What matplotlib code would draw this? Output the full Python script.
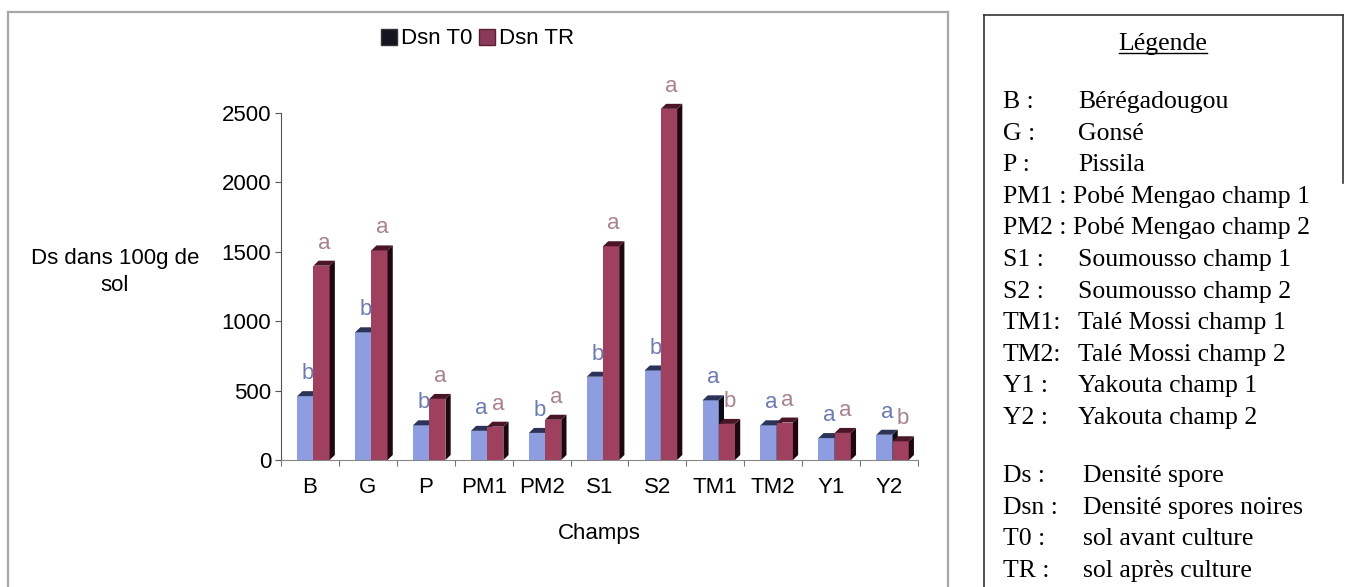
import matplotlib
matplotlib.use("Agg")
import matplotlib.pyplot as plt
from matplotlib.patches import Polygon, Rectangle
from matplotlib.lines import Line2D
import numpy as np

# --- data -------------------------------------------------------------
champs = ["B", "G", "P", "PM1", "PM2", "S1", "S2", "TM1", "TM2", "Y1", "Y2"]
dsn_t0 = [460, 920, 250, 210, 195, 600, 645, 430, 250, 158, 182]
dsn_tr = [1400, 1510, 440, 240, 290, 1540, 2530, 260, 270, 195, 135]
lettres_t0 = ["b", "b", "b", "a", "b", "b", "b", "a", "a", "a", "a"]
lettres_tr = ["a", "a", "a", "a", "a", "a", "a", "b", "a", "a", "b"]
yticks = [0, 500, 1000, 1500, 2000, 2500]

legende_sites = [
    ("B :", "Bérégadougou"),
    ("G :", "Gonsé"),
    ("P :", "Pissila"),
    ("PM1 : Pobé Mengao champ 1", ""),
    ("PM2 : Pobé Mengao champ 2", ""),
    ("S1 :", "Soumousso champ 1"),
    ("S2 :", "Soumousso champ 2"),
    ("TM1:", "Talé Mossi champ 1"),
    ("TM2:", "Talé Mossi champ 2"),
    ("Y1 :", "Yakouta champ 1"),
    ("Y2 :", "Yakouta champ 2"),
]
legende_sigles = [
    ("Ds :", "Densité spore"),
    ("Dsn :", "Densité spores noires"),
    ("T0 :", "sol avant culture"),
    ("TR :", "sol après culture"),
]

# --- figure -----------------------------------------------------------
W, H = 1348, 587
fig = plt.figure(figsize=(W / 100, H / 100), dpi=100)
fig.patch.set_facecolor("white")


def fx(x):
    return x / W


def fy(y):
    return 1 - y / H


SANS = "Liberation Sans"
SERIF = "Liberation Serif"

ax = fig.add_axes([fx(281), fy(460), fx(918) - fx(281), fy(113) - fy(460)])
ax.set_xlim(-0.5, len(champs) - 0.5)
ax.set_ylim(0, 2500)

# 3D-like clustered columns
w = 0.28
dx = 0.09
px_per_unit = (460 - 113) / 2500
dy = 5 / px_per_unit

c_t0 = dict(front="#8e9de0", top="#2c3358", side="#0c0c14", txt="#6c7ab0")
c_tr = dict(front="#a0405f", top="#4a1627", side="#1e070f", txt="#a8828e")


def colonne(x0, v, col):
    x1 = x0 + w
    ax.add_patch(Rectangle((x0, 0), w, v, facecolor=col["front"],
                           edgecolor="none", clip_on=False, zorder=3))
    ax.add_patch(Polygon([(x1, 0), (x1 + dx, dy), (x1 + dx, v + dy), (x1, v)],
                         closed=True, facecolor=col["side"], edgecolor="none",
                         clip_on=False, zorder=3))
    ax.add_patch(Polygon([(x0, v), (x0 + dx, v + dy), (x1 + dx, v + dy), (x1, v)],
                         closed=True, facecolor=col["top"], edgecolor="none",
                         clip_on=False, zorder=3))


x = np.arange(len(champs))
for i in x:
    colonne(i - 0.22, dsn_t0[i], c_t0)
    colonne(i + 0.06, dsn_tr[i], c_tr)
    ax.annotate(lettres_t0[i], (i - 0.22 + w / 2 + dx / 2, dsn_t0[i] + dy),
                xytext=(0, 5), textcoords="offset points", ha="center",
                va="bottom", fontsize=16, family=SANS, color=c_t0["txt"],
                annotation_clip=False, zorder=4)
    ax.annotate(lettres_tr[i], (i + 0.06 + w / 2 + dx / 2, dsn_tr[i] + dy),
                xytext=(0, 5), textcoords="offset points", ha="center",
                va="bottom", fontsize=16, family=SANS, color=c_tr["txt"],
                annotation_clip=False, zorder=4)

# axes styling
for s in ("top", "right"):
    ax.spines[s].set_visible(False)
ax.spines["left"].set_color("#555555")
ax.spines["bottom"].set_color("#888888")
ax.set_yticks(yticks)
ax.set_yticklabels([str(t) for t in yticks], family=SANS, fontsize=16)
ax.tick_params(axis="y", direction="out", length=4, width=0.8, pad=3,
               color="#555555")
ax.set_xticks(x)
ax.set_xticklabels(champs, family=SANS, fontsize=16)
ax.set_xticks(np.arange(-0.5, len(champs)), minor=True)
ax.tick_params(axis="x", which="major", length=0, pad=12)
ax.tick_params(axis="x", which="minor", length=4, width=0.8, color="#777777")
ax.set_facecolor("white")

ax.set_xlabel("Champs", family=SANS, fontsize=16, labelpad=18)
fig.text(fx(115), fy(272), "Ds dans 100g de\nsol", ha="center", va="center",
         family=SANS, fontsize=16, linespacing=1.4)

# series legend above the plot
handles = [Rectangle((0, 0), 1, 1, facecolor="#15151f", edgecolor="#333333"),
           Rectangle((0, 0), 1, 1, facecolor="#8a3a58", edgecolor="#5a2036")]
fig.legend(handles, ["Dsn T0", "Dsn TR"], loc="center",
           bbox_to_anchor=(fx(478), fy(39)), ncol=2, frameon=False,
           prop=dict(family=SANS, size=16), handlelength=0.7, handleheight=0.7,
           handletextpad=0.2, columnspacing=0.3)

# chart frame
fig.add_artist(Line2D([fx(8), fx(948)], [fy(12), fy(12)], color="#a8a8a8", lw=1.6))
fig.add_artist(Line2D([fx(8), fx(8)], [fy(12), 0], color="#a8a8a8", lw=1.6))
fig.add_artist(Line2D([fx(948), fx(948)], [fy(12), 0], color="#a8a8a8", lw=1.6))

# abbreviation box
fig.add_artist(Line2D([fx(984), fx(1343)], [fy(15), fy(15)], color="#333333", lw=1.2))
fig.add_artist(Line2D([fx(984), fx(984)], [fy(15), 0], color="#333333", lw=1.2))
fig.add_artist(Line2D([fx(1343), fx(1343)], [fy(15), fy(183)], color="#333333", lw=1.2))

FS = 18.5
titre = fig.text(fx(1163), fy(44), "Légende", ha="center", va="center",
                 family=SERIF, fontsize=FS)

y0, pas = 102, 31.6
for k, (sig, desc) in enumerate(legende_sites):
    yy = y0 + k * pas
    fig.text(fx(1003), fy(yy), sig, ha="left", va="center", family=SERIF, fontsize=FS)
    if desc:
        fig.text(fx(1078), fy(yy), desc, ha="left", va="center", family=SERIF, fontsize=FS)

y1 = y0 + 10 * pas + 58
for k, (sig, desc) in enumerate(legende_sigles):
    yy = y1 + k * pas
    fig.text(fx(1003), fy(yy), sig, ha="left", va="center", family=SERIF, fontsize=FS)
    fig.text(fx(1083), fy(yy), desc, ha="left", va="center", family=SERIF, fontsize=FS)

# underline the box title
fig.canvas.draw()
bb = titre.get_window_extent().transformed(fig.transFigure.inverted())
fig.add_artist(Line2D([bb.x0, bb.x1], [bb.y0 + 0.004, bb.y0 + 0.004],
                      color="black", lw=1.0))

fig.savefig("out.png", dpi=100, facecolor="white")
